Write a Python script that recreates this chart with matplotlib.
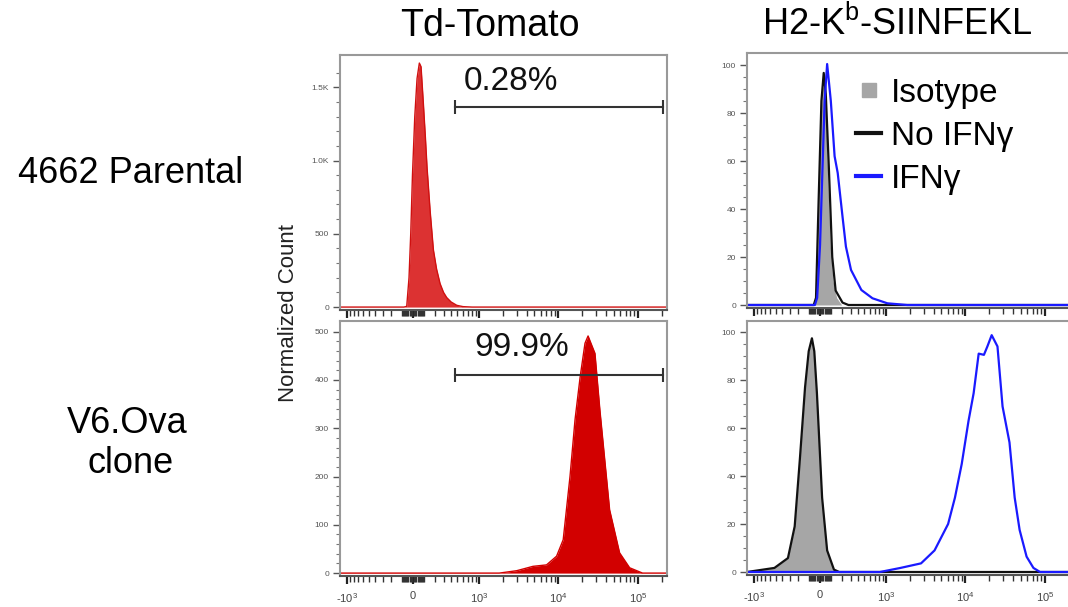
import numpy as np
import matplotlib
matplotlib.use("Agg")
import matplotlib.pyplot as plt
from matplotlib.lines import Line2D

plt.rcParams['font.family'] = ['Liberation Sans', 'DejaVu Sans']
plt.rcParams['mathtext.fontset'] = 'custom'
plt.rcParams['mathtext.rm'] = 'Liberation Sans'
plt.rcParams['mathtext.it'] = 'Liberation Sans'

# ---- data (fluorescence, normalized count) ----
# Td-Tomato, 4662 parental
tdt_par_x = [-1220, -80, -55, -35, -20, -5, 15, 35, 55, 70, 90, 110, 125, 155, 187, 220, 259, 300, 340, 400, 488, 600, 800, 231000]
tdt_par_y = [0, 0, 5, 200, 500, 900, 1300, 1560, 1665, 1640, 1400, 1150, 950, 650, 390, 260, 160, 100, 65, 35, 12, 3, 0, 0]
# Td-Tomato, V6.Ova clone
tdt_ova_x = [-1220, 1800, 3000, 4800, 7100, 9500, 11500, 14000, 16200, 18800, 21600, 23600, 28800, 33200, 44000, 58700, 78500, 114000, 231000]
tdt_ova_y = [0, 0, 5, 14, 17, 35, 69, 200, 318, 407, 476, 491, 455, 338, 131, 42, 11, 0, 0]

# H2-Kb-SIINFEKL, parental
par_iso_x = [-60, -40, -25, -10, 5, 20, 35, 50, 70, 90, 115, 150, 200]
par_iso_y = [0, 2, 15, 45, 75, 90, 93, 80, 50, 25, 10, 3, 0]
par_no_x = [-1220, -55, -35, -12, 12, 32, 50, 77, 108, 140, 209, 275, 231000]
par_no_y = [0, 0, 3, 44, 85, 96.7, 88, 57.6, 20, 6, 1, 0, 0]
par_ifn_x = [-1220, -45, -25, 0, 20, 40, 62, 80, 95, 130, 160, 209, 246, 306, 450, 650, 1030, 1850, 231000]
par_ifn_y = [0, 0, 3, 25, 55, 85, 100.4, 92, 85, 62, 55, 36.8, 24.3, 14.6, 6.25, 2.8, 0.7, 0, 0]

# H2-Kb-SIINFEKL, V6.Ova clone
ova_iso_x = [-1220, -520, -320, -240, -185, -134, -100, -71, -50, -27, 18, 62, 124, 175, 231000]
ova_iso_y = [0, 1.7, 5.8, 19, 47, 77, 92, 97.4, 92, 74.5, 31, 9, 1, 0, 0]
ova_ifn_x = [-1220, 820, 1520, 2770, 4100, 6070, 7400, 9000, 10960, 12700, 14700, 17100, 18900, 21400, 25300, 29300, 35800, 41600, 48000, 58700, 71500, 86500, 231000]
ova_ifn_y = [0, 0, 1.7, 3.6, 9, 20, 31, 45, 63, 74.5, 91, 90.5, 94, 98.7, 94, 69, 54, 31, 17.5, 6.4, 1.7, 0, 0]

xticks = [-1000, 0, 1000, 10000, 100000]
xticklabels = ['-10$^3$', '0', '10$^3$', '10$^4$', '10$^5$']

W, H = 1068, 607
fig = plt.figure(figsize=(W / 100, H / 100), dpi=100)


def fwd(x):
    return np.arcsinh(np.asarray(x, dtype=float) / 300.0)


def inv(y):
    return 300.0 * np.sinh(np.asarray(y, dtype=float))


def make_ax(l, r, t, b):
    return fig.add_axes([l / W, 1 - b / H, (r - l) / W, (b - t) / H])


minor_x = ([-k * 100 for k in range(1, 10)] + [k * 100 for k in range(1, 10)]
           + [-k * 10 for k in range(1, 10)] + [k * 10 for k in range(1, 10)]
           + [k * 10 ** d for d in (3, 4) for k in range(2, 10)] + [200000])


def style(ax, ylim, yticks, yticklabels, yminor, show_xlabels):
    ax.set_xscale('function', functions=(fwd, inv))
    ax.set_xlim(-1220, 231000)
    ax.set_ylim(*ylim)
    ax.set_xticks(xticks)
    ax.set_xticks(minor_x, minor=True)
    ax.set_xticklabels(xticklabels if show_xlabels else [])
    ax.set_yticks(yticks)
    ax.set_yticklabels(yticklabels)
    ax.set_yticks(yminor, minor=True)
    for s in ['top', 'right', 'left']:
        ax.spines[s].set_color('#999999')
        ax.spines[s].set_linewidth(1.5)
    ax.spines['bottom'].set_color('#555555')
    ax.spines['bottom'].set_linewidth(1.5)
    ax.tick_params(axis='x', which='major', direction='out', length=6, width=1.6, color='#222222',
                   labelsize=8, labelcolor='#444444', pad=5)
    ax.tick_params(axis='x', which='minor', direction='out', length=4, width=1.0, color='#333333')
    ax.tick_params(axis='y', which='major', direction='out', length=5, width=1.0, color='#555555',
                   labelsize=6, labelcolor='#555555', pad=3)
    ax.tick_params(axis='y', which='minor', direction='out', length=3, width=0.8, color='#777777')


# top-left
ax1 = make_ax(340, 667, 55, 310)
ax1.fill_between(tdt_par_x, tdt_par_y, color='#dc3232', lw=0)
ax1.plot(tdt_par_x, tdt_par_y, color='#d01010', lw=1)
style(ax1, (-20, 1720), [0, 500, 1000, 1500], ['0', '500', '1.0K', '1.5K'],
      [v for v in range(100, 1700, 100) if v % 500], False)
ax1.plot([459, 207000], [1364, 1364], color='#333333', lw=1.5, marker='|', ms=10, mew=1.5)
ax1.text(2540, 1540, '0.28%', fontsize=24, ha='center', va='center', color='#111111')

# bottom-left
ax2 = make_ax(340, 667, 321, 576)
ax2.fill_between(tdt_ova_x, tdt_ova_y, color='#d20000', lw=0)
ax2.plot(tdt_ova_x, tdt_ova_y, color='#d20000', lw=1)
style(ax2, (-6, 522), [0, 100, 200, 300, 400, 500], ['0', '100', '200', '300', '400', '500'],
      [v for v in range(20, 520, 20) if v % 100], True)
ax2.plot([459, 207000], [410, 410], color='#333333', lw=1.5, marker='|', ms=10, mew=1.5)
ax2.text(3490, 468, '99.9%', fontsize=24, ha='center', va='center', color='#111111')

# top-right
ax3 = make_ax(747, 1074, 53, 308)
ax3.fill_between(par_iso_x, par_iso_y, color='#a6a6a6', lw=0)
ax3.plot(par_no_x, par_no_y, color='#111111', lw=1.6)
ax3.plot(par_ifn_x, par_ifn_y, color='#1a1aff', lw=1.6)
style(ax3, (-1.25, 105), [0, 20, 40, 60, 80, 100], ['0', '20', '40', '60', '80', '100'],
      [v for v in range(5, 105, 5) if v % 20], False)

handles = [Line2D([], [], marker='s', ls='none', color='#a6a6a6', markersize=10),
           Line2D([], [], color='#111111', lw=3),
           Line2D([], [], color='#1a1aff', lw=3)]
fig.legend(handles, ['Isotype', 'No IFNγ', 'IFNγ'], loc='upper left',
           bbox_to_anchor=(856 / W, 1 - 78 / H), frameon=False, fontsize=24,
           handlelength=0.75, handletextpad=0.3, labelspacing=0.36, borderpad=0, borderaxespad=0)

# bottom-right
ax4 = make_ax(747, 1074, 321, 575)
ax4.fill_between(ova_iso_x, ova_iso_y, color='#a6a6a6', lw=0)
ax4.plot(ova_iso_x, ova_iso_y, color='#111111', lw=1.6)
ax4.plot(ova_ifn_x, ova_ifn_y, color='#1a1aff', lw=1.6)
style(ax4, (-1.25, 104.6), [0, 20, 40, 60, 80, 100], ['0', '20', '40', '60', '80', '100'],
      [v for v in range(5, 105, 5) if v % 20], True)

# titles and labels
fig.text(490 / W, 1 - 36 / H, 'Td-Tomato', fontsize=27, ha='center', va='baseline')
fig.text(897 / W, 1 - 35 / H, 'H2-K$^{\\mathrm{b}}$-SIINFEKL', fontsize=26, ha='center', va='baseline')
fig.text(131 / W, 1 - 183 / H, '4662 Parental', fontsize=26, ha='center', va='baseline')
fig.text(127 / W, 1 - 433 / H, 'V6.Ova', fontsize=26, ha='center', va='baseline')
fig.text(131 / W, 1 - 473 / H, 'clone', fontsize=26, ha='center', va='baseline')
fig.text(289 / W, 1 - 313 / H, 'Normalized Count', fontsize=16, rotation=90,
         ha='center', va='center', color='#222222')

fig.savefig('out.png', dpi=100)
